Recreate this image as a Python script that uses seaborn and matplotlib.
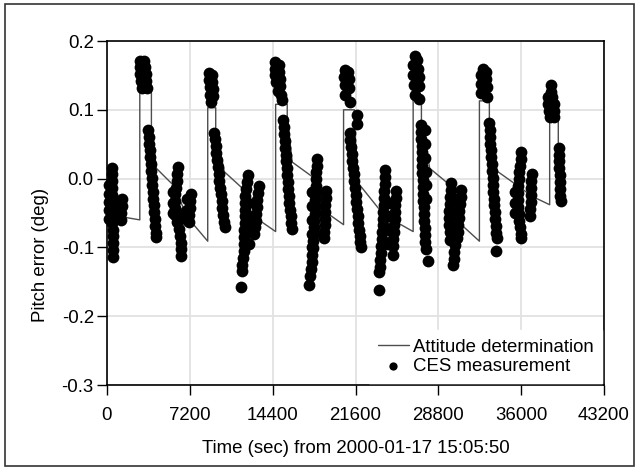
import matplotlib
matplotlib.use("Agg")
import matplotlib.pyplot as plt
import seaborn as sns
import pandas as pd
from matplotlib.patches import Rectangle

# === Attitude determination (sawtooth) ===
ad_time = [0, 1100, 2851, 2851, 3860, 3860, 4290, 5730, 7030, 8755,
           8755, 9450, 9450, 10195, 11635, 13363, 14659,
           14659, 15667, 15667, 16099, 17827, 19123, 20563,
           20563, 21500, 21500, 21859, 23587, 25027, 26611,
           26611, 27330, 27330, 28051, 29635, 30931, 32371,
           32371, 33235, 33235, 33811, 35827, 36979, 38477,
           38477, 39226, 39226, 39400]
ad_pitch = [-0.052, -0.055, -0.060, 0.125, 0.125, 0.075, 0.015, -0.009, -0.057, -0.091,
            0.103, 0.103, 0.073, 0.010, -0.012, -0.062, -0.077,
            0.108, 0.108, 0.091, 0.024, 0.003, -0.050, -0.067,
            0.100, 0.100, 0.075, -0.007, -0.043, -0.062, -0.077,
            0.118, 0.118, 0.084, 0.015, -0.007, -0.069, -0.091,
            0.113, 0.113, 0.084, 0.012, -0.012, -0.026, -0.038,
            0.084, 0.084, 0.051, 0.040]

# === CES measurements, one block per orbit ===
ces_t_0 = [450, 440, 420, 400, 400, 420, 440, 450, 470, 480, 490, 500, 500, 500,
           200, 160, 150, 160, 200,
           700, 900,
           1300, 1280, 1260, 1240]
ces_v_0 = [0.016, 0.006, -0.004, -0.014, -0.024, -0.034, -0.044, -0.054, -0.064, -0.074, -0.084, -0.094, -0.104, -0.114,
           -0.010, -0.022, -0.034, -0.046, -0.058,
           -0.055, -0.045,
           -0.030, -0.040, -0.050, -0.060]

ces_t_1 = [2850, 3250, 2850, 3300, 2900, 3350, 2950, 3400, 3000, 3450,
           3560, 3620, 3650, 3700, 3740, 3790, 3830, 3870, 3920, 3960, 4010, 4050, 4100, 4140, 4190, 4240, 4290,
           6150, 6100, 6050, 6000, 5950, 5900, 5880, 5950, 6100, 6250, 6350, 6400, 6400, 6400,
           5750, 5730, 5750,
           7300, 7250, 7200, 7150, 7100,
           6950, 6950, 6950,
           6600, 6750]
ces_v_1 = [0.171, 0.171, 0.162, 0.162, 0.152, 0.152, 0.142, 0.142, 0.132, 0.132,
           0.071, 0.061, 0.051, 0.041, 0.031, 0.021, 0.011, 0.001, -0.009, -0.019, -0.029, -0.039, -0.049, -0.059, -0.069, -0.079, -0.085,
           0.017, 0.007, -0.003, -0.013, -0.023, -0.033, -0.043, -0.053, -0.063, -0.073, -0.083, -0.093, -0.103, -0.113,
           -0.020, -0.035, -0.050,
           -0.023, -0.033, -0.043, -0.053, -0.063,
           -0.030, -0.045, -0.060,
           -0.055, -0.048]

ces_t_2 = [8870, 9170, 8870, 9170, 8920, 9220, 8970, 9220, 9020,
           9320, 9380, 9450, 9510, 9580, 9640, 9710, 9770, 9840, 9900, 9970, 10030, 10100, 10170, 10250,
           12220, 12170, 12120, 12020, 11970, 11970, 11970, 11970, 11920, 11920, 11870, 11870, 11820, 11770, 11770, 11670,
           12270, 12300, 12320, 12320,
           13170, 13120, 13070, 13020, 12970, 12920, 12870, 12820]
ces_v_2 = [0.153, 0.150, 0.143, 0.140, 0.133, 0.130, 0.122, 0.120, 0.111,
           0.067, 0.057, 0.047, 0.037, 0.027, 0.017, 0.007, -0.003, -0.013, -0.023, -0.033, -0.043, -0.053, -0.063, -0.071,
           0.005, -0.005, -0.015, -0.025, -0.035, -0.045, -0.055, -0.065, -0.075, -0.085, -0.095, -0.105, -0.115, -0.125, -0.135, -0.157,
           -0.035, -0.055, -0.075, -0.095,
           -0.011, -0.021, -0.031, -0.041, -0.051, -0.061, -0.071, -0.081]

ces_t_3 = [14630, 14930, 14580, 14980, 14630, 15030, 14730, 15080, 14830, 15130, 15180,
           15330, 15380, 15420, 15460, 15510, 15550, 15590, 15640, 15680, 15730, 15770, 15820, 15860, 15910, 15960, 16010, 16080,
           18260, 18240, 18210, 18180, 18160, 18130, 18100, 18080, 18050, 18020, 17990, 17960, 17920, 17880, 17830, 17780, 17730, 17680, 17540,
           17780, 17780, 17780, 17780, 17780,
           19030, 19010, 18980, 18960, 18930, 18910, 18880, 18860]
ces_v_3 = [0.170, 0.165, 0.160, 0.155, 0.150, 0.145, 0.140, 0.135, 0.128, 0.122, 0.114,
           0.085, 0.075, 0.065, 0.055, 0.045, 0.035, 0.025, 0.015, 0.005, -0.005, -0.015, -0.025, -0.035, -0.045, -0.055, -0.065, -0.073,
           0.029, 0.019, 0.009, -0.001, -0.011, -0.021, -0.031, -0.041, -0.051, -0.061, -0.071, -0.081, -0.091, -0.101, -0.111, -0.121, -0.131, -0.141, -0.155,
           -0.020, -0.040, -0.060, -0.080, -0.100,
           -0.018, -0.028, -0.038, -0.048, -0.058, -0.068, -0.078, -0.087]

ces_t_4 = [20650, 20950, 20600, 21000, 20650, 21050, 20700, 21100,
           21080, 21140, 21200, 21260, 21320, 21380, 21440, 21500, 21560, 21620, 21680, 21740, 21800, 21850, 21900, 21950, 22000, 22050,
           21700, 21720,
           24170, 24150, 24130, 24100, 24070, 24040, 24020, 23990, 23960, 23930, 23890, 23850, 23800, 23750, 23700, 23650, 23600,
           25100, 25080, 25050, 25020, 24990, 24960, 24930, 24900, 24870, 24830,
           24500, 24500, 24500, 24450]
ces_v_4 = [0.158, 0.155, 0.148, 0.145, 0.136, 0.132, 0.122, 0.112,
           0.066, 0.056, 0.046, 0.036, 0.026, 0.016, 0.006, -0.004, -0.014, -0.024, -0.034, -0.044, -0.054, -0.064, -0.074, -0.084, -0.092, -0.099,
           0.092, 0.080,
           0.012, 0.002, -0.008, -0.018, -0.028, -0.038, -0.048, -0.058, -0.068, -0.078, -0.088, -0.098, -0.108, -0.118, -0.128, -0.136, -0.162,
           -0.018, -0.028, -0.038, -0.048, -0.058, -0.068, -0.078, -0.088, -0.098, -0.111,
           -0.035, -0.055, -0.075, -0.095]

ces_t_5 = [26730, 26980, 26630, 27030, 26630, 27080, 26680, 27080, 26730, 27130,
           27280, 27300, 27320, 27340, 27360, 27380, 27400, 27420, 27440, 27460, 27480, 27500, 27520, 27540, 27570, 27600, 27630, 27660, 27690, 27880,
           27630, 27650, 27680, 27700, 27730, 27750,
           29930, 29880, 29830, 29780, 29750, 29730, 29730, 29780, 29830,
           30780, 30730, 30680, 30630, 30580, 30530, 30480, 30380, 30280, 30180, 30130, 30080,
           30280, 30280, 30230]
ces_v_5 = [0.178, 0.172, 0.165, 0.160, 0.150, 0.148, 0.136, 0.134, 0.122, 0.115,
           0.078, 0.068, 0.058, 0.048, 0.038, 0.028, 0.018, 0.008, -0.002, -0.012, -0.022, -0.032, -0.042, -0.052, -0.062, -0.072, -0.082, -0.092, -0.102, -0.120,
           0.070, 0.050, 0.030, 0.010, -0.010, -0.030,
           -0.007, -0.017, -0.027, -0.037, -0.047, -0.057, -0.067, -0.077, -0.089,
           -0.017, -0.027, -0.037, -0.047, -0.057, -0.067, -0.077, -0.087, -0.097, -0.107, -0.117, -0.126,
           -0.030, -0.050, -0.070]

ces_t_6 = [32650, 32900, 32500, 32950, 32500, 33000, 32550, 33000,
           33220, 33260, 33300, 33330, 33370, 33400, 33440, 33480, 33510, 33550, 33590, 33620, 33660, 33700, 33740, 33780, 33820, 33860, 33820,
           36000, 35950, 35900, 35850, 35800, 35750, 35700, 35700, 35750, 35800, 35850, 35900, 35950, 36000,
           35450, 35450, 35500,
           36900, 36880, 36860, 36840, 36820, 36800, 36750]
ces_v_6 = [0.160, 0.155, 0.150, 0.145, 0.138, 0.133, 0.125, 0.119,
           0.081, 0.071, 0.061, 0.051, 0.041, 0.031, 0.021, 0.011, 0.001, -0.009, -0.019, -0.029, -0.039, -0.049, -0.059, -0.069, -0.079, -0.087, -0.105,
           0.039, 0.029, 0.019, 0.009, -0.001, -0.011, -0.021, -0.031, -0.041, -0.051, -0.061, -0.071, -0.081, -0.086,
           -0.020, -0.035, -0.050,
           0.006, -0.004, -0.014, -0.024, -0.034, -0.044, -0.054]

ces_t_7 = [38570, 38570, 38370, 38720, 38370, 38870, 38420, 38870, 38470, 38820,
           39270, 39290, 39310, 39330, 39350, 39370, 39390, 39410, 39420]
ces_v_7 = [0.136, 0.126, 0.118, 0.118, 0.108, 0.108, 0.098, 0.098, 0.090, 0.090,
           0.045, 0.035, 0.025, 0.015, 0.005, -0.005, -0.015, -0.025, -0.032]

x_ticks = [0, 7200, 14400, 21600, 28800, 36000, 43200]
y_ticks = [-0.3, -0.2, -0.1, 0.0, 0.1, 0.2]

# === Build frames ===
ad = pd.DataFrame({"time": ad_time, "pitch": ad_pitch})
ces = pd.DataFrame({
    "time": ces_t_0 + ces_t_1 + ces_t_2 + ces_t_3 + ces_t_4 + ces_t_5 + ces_t_6 + ces_t_7,
    "pitch": ces_v_0 + ces_v_1 + ces_v_2 + ces_v_3 + ces_v_4 + ces_v_5 + ces_v_6 + ces_v_7,
})

# === Style ===
sns.set_theme(style="whitegrid")
plt.rcParams["font.family"] = ["Liberation Sans", "DejaVu Sans"]
plt.rcParams["axes.unicode_minus"] = False
plt.rcParams["text.color"] = "black"
plt.rcParams["axes.labelcolor"] = "black"
plt.rcParams["xtick.color"] = "black"
plt.rcParams["ytick.color"] = "black"
fs = 13.4

fig = plt.figure(figsize=(6.39, 4.70), dpi=100)
ax = fig.add_axes([107 / 639, 85 / 470, 497 / 639, 344 / 470])

# === Plot ===
sns.lineplot(data=ad, x="time", y="pitch", sort=False, estimator=None,
             color="#4d4d4d", linewidth=1.0, ax=ax, label="Attitude determination", zorder=2)
sns.scatterplot(data=ces, x="time", y="pitch", color="black", s=72, linewidth=0,
                ax=ax, label="CES measurement", zorder=3, clip_on=False)

ax.set_xlim(0, 43200)
ax.set_ylim(-0.3, 0.2)
ax.set_xticks(x_ticks)
ax.set_xticklabels([str(t) for t in x_ticks])
ax.set_yticks(y_ticks)
ax.set_yticklabels([f"{v:.1f}" for v in y_ticks])
ax.tick_params(axis="both", direction="out", length=7, width=1, colors="black",
               labelsize=fs, left=True, bottom=True)
ax.tick_params(axis="y", pad=2.5)
ax.tick_params(axis="x", pad=8.5)
ax.grid(color="#e2e2e2", linewidth=1.3)
for sp in ax.spines.values():
    sp.set_visible(True)
    sp.set_color("black")
    sp.set_linewidth(1.2)

ax.set_xlabel("Time (sec) from 2000-01-17 15:05:50", fontsize=fs, labelpad=12)
ax.set_ylabel("Pitch error (deg)", fontsize=fs)
ax.yaxis.set_label_coords(-0.116, 0.378)

handles, labels = ax.get_legend_handles_labels()
ax.legend(handles, labels, loc="lower right", frameon=True, fancybox=False,
          edgecolor="white", facecolor="white", framealpha=1, fontsize=fs,
          borderaxespad=0.1, handlelength=1.7, handletextpad=0.2,
          labelspacing=0.1, borderpad=0.45, markerscale=0.7)

# outer frame of the figure
fig.patches.append(Rectangle((5 / 639, 4 / 470), 629 / 639, 462 / 470,
                             transform=fig.transFigure, fill=False,
                             edgecolor="#333333", linewidth=1.2))

fig.savefig("out.png", dpi=100)
plt.close(fig)
